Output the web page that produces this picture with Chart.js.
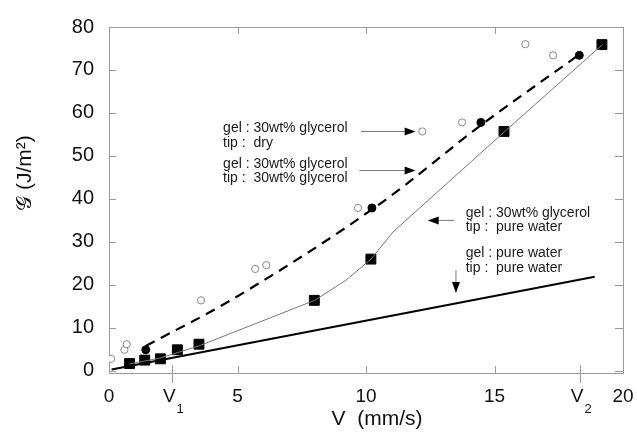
<!DOCTYPE html>
<html>
<head>
<meta charset="utf-8">
<script src="https://cdn.jsdelivr.net/npm/chart.js@4.4.1/dist/chart.umd.min.js"></script>
<style>
  html, body { margin: 0; padding: 0; background: #fff; }
  #wrap { width: 637px; height: 446px; }
</style>
</head>
<body>
<div id="wrap"><canvas id="chart"></canvas></div>
<script>
// ---------------- data ----------------
// gel 30wt% glycerol, tip dry  (open circles)
const tipDry = [[0.08, 2.8], [0.6, 4.9], [0.69, 6.2], [3.58, 16.4], [5.69, 23.7], [6.12, 24.6],
                [9.69, 37.9], [12.19, 55.7], [13.74, 57.8], [16.2, 76.0], [17.28, 73.4]];
// gel 30wt% glycerol, tip 30wt% glycerol  (filled circles)
const tipGlycerol = [[1.43, 4.9], [10.23, 37.9], [14.47, 57.8], [18.3, 73.4]];
// gel 30wt% glycerol, tip pure water  (filled squares)
const tipWater = [[0.8, 1.7], [1.39, 2.5], [2.0, 2.8], [2.66, 4.9], [3.5, 6.2], [7.99, 16.4],
                  [10.19, 26.0], [15.37, 55.7], [19.18, 75.9]];
// guide curves
const glycerolFit = [[1.43, 5.8], [4.7, 16.3], [10.6, 39.1], [14.44, 57.0], [18.3, 73.6]];
const waterFit = [[0.8, 1.6], [2.0, 3.0], [3.5, 5.8], [8.0, 16.4], [9.2, 21.0], [10.2, 26.0],
                  [11.05, 32.3], [15.4, 55.7], [19.2, 75.9]];
const pureWaterLine = [[0.1, 0.3], [18.9, 21.9]];

const yTicks = [0, 10, 20, 30, 40, 50, 60, 70, 80];
const xTickValues = [0, 2.46, 5, 10, 15, 18.33, 20];
const xTickLabels = ["0", "V|1", "5", "10", "15", "V|2", "20"];

const notes = [
  { lines: ["gel : 30wt% glycerol", "tip :  dry"], x: 4.44, y: 56.4 },
  { lines: ["gel : 30wt% glycerol", "tip :  30wt% glycerol"], x: 4.44, y: 48.2 },
  { lines: ["gel : 30wt% glycerol", "tip :  pure water"], x: 13.88, y: 36.7 },
  { lines: ["gel : pure water", "tip :  pure water"], x: 13.88, y: 27.3 }
];
const arrows = [
  { from: [9.8, 55.7], to: [11.93, 55.7] },
  { from: [9.74, 46.6], to: [11.93, 46.6] },
  { from: [13.43, 35.0], to: [12.4, 35.0] },
  { from: [13.5, 23.4], to: [13.5, 18.1] }
];

const FONT = '"Liberation Sans", Arial, Helvetica, sans-serif';
const pts = arr => arr.map(p => ({ x: p[0], y: p[1] }));

// ---------------- frame, ticks, labels, notes ----------------
const decor = {
  id: "decor",
  beforeDatasetsDraw(chart) {
    const { ctx, chartArea: a, scales: { x, y } } = chart;
    ctx.save();
    ctx.strokeStyle = "#9a9a9a";
    ctx.lineWidth = 1;
    ctx.strokeRect(a.left + 0.5, a.top + 0.5, a.right - a.left, a.bottom - a.top);
    ctx.beginPath();
    yTicks.forEach(v => {
      const py = Math.round(y.getPixelForValue(v)) + 0.5;
      ctx.moveTo(a.left, py); ctx.lineTo(a.left + 7, py);
      ctx.moveTo(a.right, py); ctx.lineTo(a.right - 8, py);
    });
    xTickValues.forEach((v, i) => {
      if (v === 0 || v === 20) return;
      const px = Math.round(x.getPixelForValue(v)) + 0.5;
      if (xTickLabels[i].includes("|")) {
        ctx.moveTo(px, a.bottom - 8); ctx.lineTo(px, a.bottom + 10);
      } else {
        ctx.moveTo(px, a.bottom); ctx.lineTo(px, a.bottom - 7);
        ctx.moveTo(px, a.top); ctx.lineTo(px, a.top + 7);
      }
    });
    ctx.stroke();
    ctx.restore();
  },
  afterDatasetsDraw(chart) {
    const { ctx, scales: { x, y } } = chart;
    ctx.save();
    ctx.fillStyle = "#111";
    ctx.textBaseline = "middle";

    // x tick labels (V1, V2 with subscripts)
    xTickValues.forEach((v, i) => {
      const px = x.getPixelForValue(v);
      const lab = xTickLabels[i];
      ctx.textAlign = "center";
      if (lab.includes("|")) {
        const [main, sub] = lab.split("|");
        ctx.font = "19px " + FONT;
        ctx.fillText(main, px - 3, 397);
        ctx.font = "13px " + FONT;
        ctx.fillText(sub, px + 8, 409);
      } else {
        ctx.font = "19px " + FONT;
        ctx.fillText(lab, px, 397);
      }
    });

    // axis titles
    ctx.font = "21px " + FONT;
    ctx.textAlign = "center";
    ctx.fillText("V  (mm/s)", 377, 419);
    ctx.save();
    ctx.translate(25, 173);
    ctx.rotate(-Math.PI / 2);
    ctx.fillText("\u{1D4A2} (J/m\u00B2)", 0, 0);
    ctx.restore();

    // notes
    ctx.font = "14px " + FONT;
    ctx.textAlign = "left";
    ctx.fillStyle = "#1a1a1a";
    notes.forEach(n => {
      const px = x.getPixelForValue(n.x);
      const py = y.getPixelForValue(n.y);
      n.lines.forEach((t, k) => ctx.fillText(t, px, py + k * 14.5));
    });

    // arrows
    arrows.forEach(ar => {
      const x0 = x.getPixelForValue(ar.from[0]), y0 = y.getPixelForValue(ar.from[1]);
      const x1 = x.getPixelForValue(ar.to[0]), y1 = y.getPixelForValue(ar.to[1]);
      const ang = Math.atan2(y1 - y0, x1 - x0);
      const hl = 11, hw = 4;
      const bx = x1 - Math.cos(ang) * hl, by = y1 - Math.sin(ang) * hl;
      ctx.strokeStyle = "#777";
      ctx.lineWidth = 1;
      ctx.beginPath(); ctx.moveTo(x0, y0); ctx.lineTo(bx, by); ctx.stroke();
      ctx.fillStyle = "#000";
      ctx.beginPath();
      ctx.moveTo(x1, y1);
      ctx.lineTo(bx - Math.sin(ang) * hw, by + Math.cos(ang) * hw);
      ctx.lineTo(bx + Math.sin(ang) * hw, by - Math.cos(ang) * hw);
      ctx.closePath();
      ctx.fill();
    });
    ctx.restore();
  }
};

// ---------------- chart ----------------
new Chart(document.getElementById("chart"), {
  type: "scatter",
  data: {
    datasets: [
      { label: "gel pure water", data: pts(pureWaterLine), showLine: true, borderColor: "#000",
        borderWidth: 2, pointRadius: 0 },
      { label: "fit tip water", data: pts(waterFit), showLine: true, borderColor: "#777",
        borderWidth: 1, pointRadius: 0, tension: 0 },
      { label: "fit tip glycerol", data: pts(glycerolFit), showLine: true, borderColor: "#000",
        borderWidth: 2.2, borderDash: [10, 7], pointRadius: 0, cubicInterpolationMode: "monotone" },
      { label: "tip dry", data: pts(tipDry), pointStyle: "circle", pointRadius: 3.6,
        backgroundColor: "#fff", borderColor: "#888", borderWidth: 1 },
      { label: "tip glycerol", data: pts(tipGlycerol), pointStyle: "circle", pointRadius: 4,
        backgroundColor: "#000", borderColor: "#000", borderWidth: 1 },
      { label: "tip water", data: pts(tipWater), pointStyle: "rect", pointRadius: 7,
        backgroundColor: "#000", borderColor: "#000", borderWidth: 1 }
    ]
  },
  options: {
    responsive: true,
    maintainAspectRatio: false,
    animation: false,
    layout: { padding: { top: 14, right: 14, left: 0, bottom: 0 } },
    plugins: { legend: { display: false }, tooltip: { enabled: false } },
    scales: {
      x: {
        type: "linear", min: 0, max: 20,
        grid: { display: false, drawTicks: false },
        border: { display: false },
        ticks: { display: false },
        afterFit: s => { s.height = 73; }
      },
      y: {
        type: "linear", min: -0.5, max: 80,
        grid: { display: false, drawTicks: false },
        border: { display: false },
        afterBuildTicks: s => { s.ticks = yTicks.map(v => ({ value: v })); },
        ticks: { color: "#111", padding: 15, font: { family: FONT, size: 20 } },
        afterFit: s => { s.width = 109; }
      }
    }
  },
  plugins: [decor]
});
</script>
</body>
</html>
